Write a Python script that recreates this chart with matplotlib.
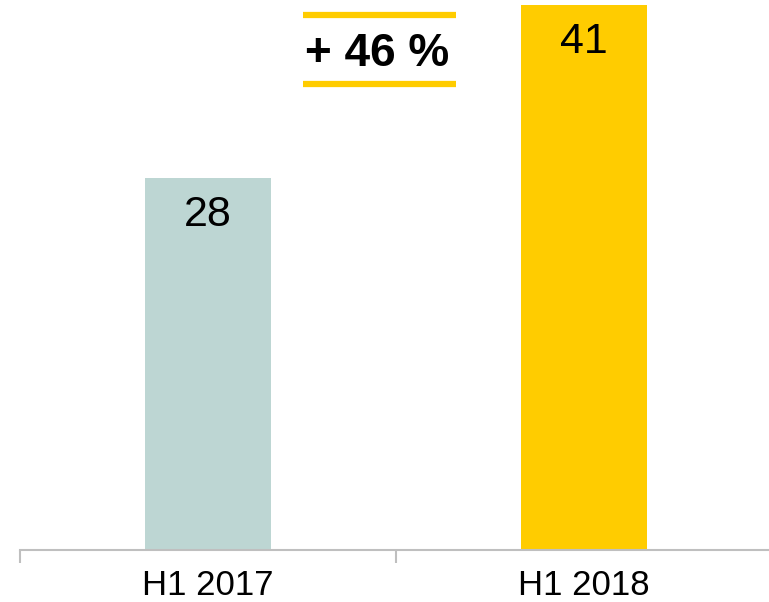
import matplotlib.pyplot as plt

# datos
categorias = ["H1 2017", "H1 2018"]
valores = [28, 41]
colores = ["#BDD6D3", "#FFCC00"]
cambio = "+ 46 %"

plt.rcParams['font.family'] = ['Liberation Sans', 'DejaVu Sans']

fig = plt.figure(figsize=(7.69, 6.02), dpi=100)
# ejes: base en y=550 px, de x=20 a x=772 px
ax = fig.add_axes([20 / 769, 1 - 550 / 602, 752 / 769, 550 / 602])

x = range(len(categorias))
barras = ax.bar(x, valores, width=0.335, color=colores)

ax.set_xlim(-0.5, 1.5)
ax.set_ylim(0, 41.38)

for b, v in zip(barras, valores):
    ax.annotate(str(v), (b.get_x() + b.get_width() / 2, v),
                xytext=(0, -26.5), textcoords='offset points',
                ha='center', va='center', fontsize=31, color='black')

# eje inferior
for s in ['top', 'right', 'left']:
    ax.spines[s].set_visible(False)
ax.spines['bottom'].set_color('#BFBFBF')
ax.spines['bottom'].set_linewidth(1.5)
ax.set_yticks([])
ax.set_xticks([-0.5, 0.5, 1.5], minor=False)
ax.set_xticklabels([])
ax.tick_params(axis='x', length=9, width=1.5, color='#BFBFBF', direction='out')
ax.set_xticks(list(x), minor=True)
ax.set_xticklabels(categorias, minor=True, fontsize=25)
ax.tick_params(axis='x', which='minor', length=0, pad=14)

# etiqueta del crecimiento
fig.text(377 / 769, 1 - 54 / 602, cambio, ha='center', va='center',
         fontsize=33, fontweight='bold', color='black')
for yy in [15, 84]:
    fig.add_artist(plt.Line2D([303 / 769, 456 / 769], [1 - yy / 602, 1 - yy / 602],
                              color='#FFCC00', linewidth=4.5, solid_capstyle='butt'))

fig.savefig("out.png", dpi=100)
